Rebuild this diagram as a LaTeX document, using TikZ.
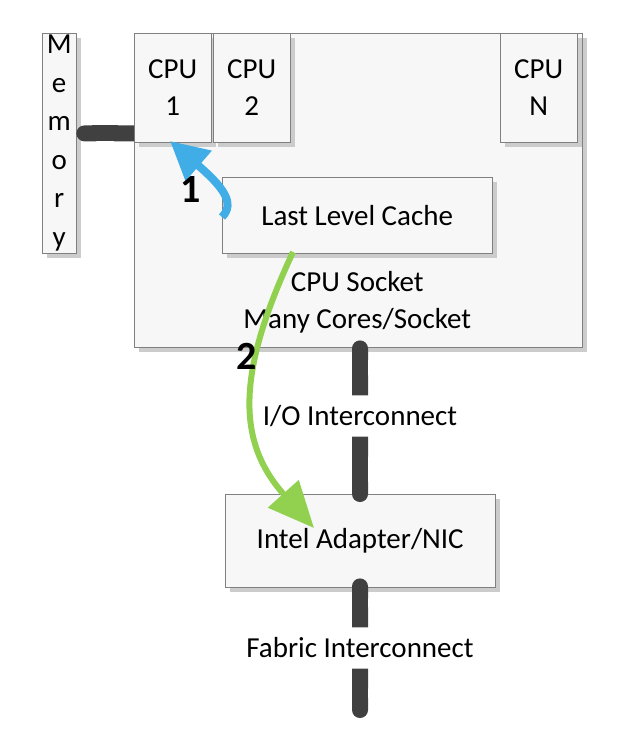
\documentclass[tikz,border=0pt]{standalone}
\usepackage{fontspec}
\setmainfont{Carlito}
\usetikzlibrary{positioning,arrows.meta,shadows}
\definecolor{boxLine}{RGB}{128,128,128}
\definecolor{boxFill}{RGB}{247,247,247}
\definecolor{linkColor}{RGB}{64,64,64}
\definecolor{hitBlue}{RGB}{65,173,230}
\definecolor{hitGreen}{RGB}{146,208,80}
\tikzstyle{diagram} = [x = 1pt, y = -1pt]
\tikzstyle{boxStyle} = [draw=boxLine, fill=boxFill, anchor=north west, inner sep=0pt, align=center, font=\fontsize{29}{37}\selectfont, drop shadow={shadow xshift=5pt, shadow yshift=-5pt, fill=black!20, opacity=1}]
\tikzstyle{linkText} = [inner sep=0pt, minimum height=41pt, font=\fontsize{29}{37}\selectfont]
\tikzstyle{linkLine} = [line width=16pt, color=linkColor]
\tikzstyle{stepNum} = [font=\fontsize{40}{40}\selectfont\bfseries]
\tikzstyle{hitBlueArrow} = [line width=8pt, color=hitBlue, -{Triangle[width=38pt, length=38pt]}]
\tikzstyle{hitGreenArrow} = [line width=6pt, color=hitGreen, -{Triangle[width=40pt, length=46pt]}]
\newcommand{\cpuBox}[3]{\node [boxStyle, minimum width=77pt, minimum height=109pt] (#1) at (#2, 33) {CPU\\#3};}

\begin{document}
\begin{tikzpicture}[diagram]
  \useasboundingbox (0,0) rectangle (630,742);
  % boxes
  \node [boxStyle, minimum width=34pt, minimum height=220pt, font=\fontsize{29}{38.5}\selectfont] (mem) at (42,33) {M\\e\\m\\o\\r\\y};
  \node [boxStyle, minimum width=448pt, minimum height=314pt] (socket) at (134,33) {};
  \cpuBox{cpu1}{134}{1}
  \cpuBox{cpu2}{213}{2}
  \cpuBox{cpuN}{500}{N}
  \node [boxStyle, minimum width=270pt, minimum height=76pt] (llc) at (222,177) {Last Level Cache};
  \node [align=center, inner sep=0pt, font=\fontsize{29}{37}\selectfont, below=18pt of llc] (sockText) {CPU Socket\\Many Cores/Socket};
  \node [boxStyle, minimum width=270pt, minimum height=93pt] (nic) at (225,494) {Intel Adapter/NIC};
  % interconnects
  \node [linkText] (io) at (360,416) {I/O Interconnect};
  \node [linkText] (fabric) at (360,648) {Fabric Interconnect};
  \coordinate (cpuPort) at ([yshift=9pt]cpu1.south west);
  \coordinate (memPort) at (mem.east |- cpuPort);
  \coordinate (fabricEnd) at (360,718);
  \draw [linkLine, {Round Cap[]}-{Butt Cap[]}] (memPort) -- (cpuPort);
  \draw [linkLine, {Round Cap[]}-{Butt Cap[]}] ([yshift=7pt]socket.south -| io.north) -- (io.north);
  \draw [linkLine, {Butt Cap[]}-{Round Cap[]}] (io.south) -- ([yshift=-8pt]nic.north -| io.south);
  \draw [linkLine, {Round Cap[]}-{Butt Cap[]}] ([yshift=9pt]nic.south -| fabric.north) -- (fabric.north);
  \draw [linkLine, {Butt Cap[]}-{Round Cap[]}] (fabric.south) -- (fabricEnd);
  % data paths
  \coordinate (blueStart) at (222,217);
  \coordinate (blueEnd) at (170,141);
  \draw [hitBlueArrow] (blueStart) .. controls (236,203) and (222,186) .. (blueEnd);
  \node [stepNum] (stepOne) at (191,190) {1};
  \coordinate (greenStart) at (293,252);
  \coordinate (greenEnd) at (314,528);
  \draw [hitGreenArrow] (greenStart) .. controls (238,370) and (235,440) .. (greenEnd);
  \node [stepNum] (stepTwo) at (247,356) {2};
\end{tikzpicture}
\end{document}
